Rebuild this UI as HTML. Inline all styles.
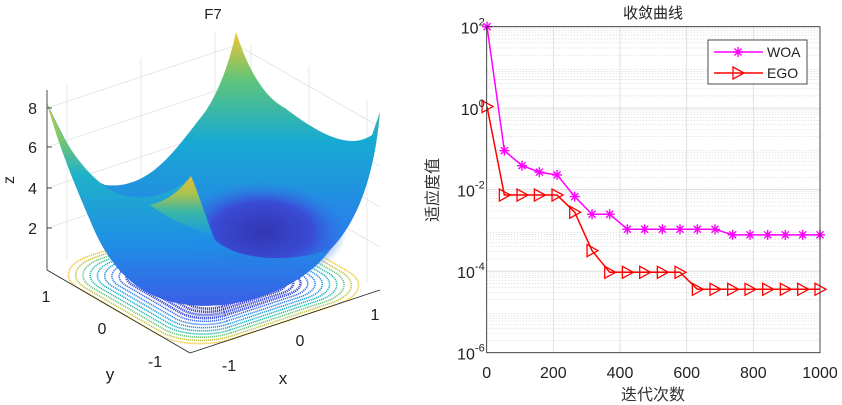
<!DOCTYPE html>
<html><head><meta charset="utf-8"><style>
body{margin:0;background:#fff}
svg{display:block;font-family:"Liberation Sans","Noto Sans CJK SC",sans-serif}
</style></head><body>
<svg id="root" width="842" height="405" viewBox="0 0 842 405" xmlns="http://www.w3.org/2000/svg">
<defs>
<linearGradient id="outerG" x1="0" y1="0" x2="0" y2="1">
<stop offset="0" stop-color="#f2c531"/><stop offset="0.15" stop-color="#8cca58"/><stop offset="0.35" stop-color="#1fb3c7"/><stop offset="0.7" stop-color="#1f8ee6"/><stop offset="1" stop-color="#3a5fe8"/></linearGradient>
<linearGradient id="backG" x1="0" y1="0" x2="0" y2="1">
<stop offset="0" stop-color="#f4c430"/><stop offset="0.18" stop-color="#5cc47b"/><stop offset="0.4" stop-color="#17a9d3"/><stop offset="0.75" stop-color="#2b7cea"/><stop offset="1" stop-color="#3b50d6"/></linearGradient>
<radialGradient id="darkG" cx="0.5" cy="0.5" r="0.5">
<stop offset="0" stop-color="#3336b0"/><stop offset="0.6" stop-color="#3a4bd6"/><stop offset="1" stop-color="#2d78ea" stop-opacity="0"/></radialGradient>
<linearGradient id="ridgeG" x1="0" y1="0" x2="0" y2="1">
<stop offset="0" stop-color="#f5c22d"/><stop offset="0.3" stop-color="#b9c540"/><stop offset="0.6" stop-color="#3fbaa0"/><stop offset="1" stop-color="#1b9be0"/></linearGradient>
</defs>

<!-- LEFT 3D PLOT -->
<g>
<text x="213" y="19" font-size="15" text-anchor="middle" fill="#222">F7</text>
<g stroke="#e2e2e2" stroke-width="0.8" fill="none">
<line x1="47" y1="108" x2="237" y2="45"/><line x1="47" y1="147" x2="237" y2="84"/><line x1="47" y1="188" x2="237" y2="125"/><line x1="47" y1="228" x2="237" y2="165"/>
<line x1="237" y1="45" x2="380" y2="127"/><line x1="237" y1="84" x2="380" y2="166"/><line x1="237" y1="125" x2="380" y2="207"/><line x1="237" y1="165" x2="380" y2="247"/>
<line x1="67" y1="83" x2="67" y2="260"/><line x1="141" y1="58" x2="141" y2="235"/><line x1="215" y1="33" x2="215" y2="210"/>
<line x1="251" y1="45" x2="251" y2="215"/><line x1="309" y1="66" x2="309" y2="248"/><line x1="367" y1="99" x2="367" y2="282"/>
</g>
<g id="floor" transform="matrix(95,-31.5,-71.5,-41.5,213.5,280)" fill="none"></g>
<path d="M47,103 C60,130 80,175 105,185 C150,190 175,150 205,112 C220,90 230,60 236,32 C245,60 260,95 285,108 C320,135 350,150 372,135 L380,112 C375,170 360,220 330,250 C300,290 240,310 190,305 C140,300 110,270 90,220 C75,185 60,150 47,103 Z" fill="url(#backG)"/>
<ellipse cx="262" cy="232" rx="85" ry="50" fill="url(#darkG)"/>
<path d="M47,103 C60,135 80,170 110,190 C140,205 170,195 190,178 C200,195 205,215 215,240 C240,262 290,262 330,250 C300,290 240,310 190,305 C140,300 110,270 90,220 C75,185 60,150 47,103 Z" fill="url(#outerG)" opacity="0.95"/>
<path d="M150,205 C170,200 180,190 191,176 C198,192 205,215 212,235 C195,230 170,220 150,205 Z" fill="url(#ridgeG)" opacity="0.9"/>
<g stroke="#222" stroke-width="0.8" fill="none">
<line x1="47" y1="90" x2="47" y2="270"/>
<line x1="47" y1="270" x2="190" y2="353"/><line x1="190" y1="353" x2="380" y2="290"/>
<line x1="47" y1="108" x2="52" y2="108"/><line x1="47" y1="147" x2="52" y2="147"/><line x1="47" y1="188" x2="52" y2="188"/><line x1="47" y1="228" x2="52" y2="228"/>
</g>
<g font-size="16" fill="#222">
<text x="37" y="114" text-anchor="end">8</text><text x="37" y="153" text-anchor="end">6</text><text x="37" y="194" text-anchor="end">4</text><text x="37" y="234" text-anchor="end">2</text>
</g>
<text x="14" y="180" font-size="16" fill="#222" transform="rotate(-90 14 180)" text-anchor="middle">z</text>
<g font-size="16" fill="#222">
<text x="46" y="302" text-anchor="middle">1</text><text x="102" y="334" text-anchor="middle">0</text><text x="155" y="367" text-anchor="middle">-1</text></g>
<text x="110" y="380" font-size="17" fill="#222" text-anchor="middle">y</text>
<g font-size="16" fill="#222">
<text x="229" y="371" text-anchor="middle">-1</text><text x="300" y="346" text-anchor="middle">0</text><text x="375" y="320" text-anchor="middle">1</text></g>
<text x="283" y="384" font-size="17" fill="#222" text-anchor="middle">x</text>
</g>

<!-- RIGHT CONVERGENCE CHART -->
<g id="conv">
<text x="653" y="18" font-size="15" text-anchor="middle" fill="#222">收敛曲线</text>
<g id="grid"></g>
<g id="series"></g>
<rect x="486.7" y="26.7" width="333.3" height="326" fill="none" stroke="#222" stroke-width="0.8"/>
<g id="ticks" font-size="16" fill="#222"></g>
<text x="653" y="400" font-size="16" text-anchor="middle" fill="#333">迭代次数</text>
<text x="438" y="190" font-size="16" text-anchor="middle" fill="#333" transform="rotate(-90 438 190)">适应度值</text>
<g>
<rect x="708" y="40" width="99" height="44" fill="#fff" stroke="#222" stroke-width="0.8"/>
<g>
<line x1="714" y1="52" x2="763" y2="52" stroke="#ff00ff" stroke-width="1.5"/>
<g id="legStar"></g>
<text x="767" y="57" font-size="14" fill="#222">WOA</text></g>
<g>
<line x1="714" y1="73" x2="763" y2="73" stroke="#ff0000" stroke-width="1.5"/>
<path d="M733,67 L744,73 L733,79 Z" fill="none" stroke="#ff0000" stroke-width="1.3"/>
<text x="767" y="78" font-size="14" fill="#222">EGO</text></g>
</g>
</g>
</svg>
<script>
const iters = [1,53,106,158,211,264,316,369,422,474,527,580,632,685,738,790,843,896,948,1000];
const woaValues = [100,0.091,0.039,0.027,0.023,0.0068,0.0025,0.0025,0.00107,0.00107,0.00107,0.00107,0.00107,0.00107,0.00078,0.00078,0.00078,0.00078,0.00078,0.00078];
const egoValues = [1.1,0.0074,0.0074,0.0074,0.0074,0.0028,0.00032,0.000094,0.000094,0.000094,0.000094,0.000094,0.000036,0.000036,0.000036,0.000036,0.000036,0.000036,0.000036,0.000036];
const xTicks = [0,200,400,600,800,1000];
const yTickExps = [2,0,-2,-4,-6];

const NS='http://www.w3.org/2000/svg';
const X0=486.7,X1=820,Y0=26.7,Y1=352.7;
function xs(v){return X0+(v-0)/(1000-0)*(X1-X0);}
function ys(v){return Y0+(2-Math.log10(v))/8*(Y1-Y0);}
function mk(tag,attrs,parent){const e=document.createElementNS(NS,tag);for(const k in attrs)e.setAttribute(k,attrs[k]);parent.appendChild(e);return e;}

const grid=document.getElementById('grid');
for(let e=-6;e<2;e++){for(let m=2;m<10;m++){const y=ys(m*Math.pow(10,e));
const l=mk('line',{x1:X0,x2:X1,y1:y,y2:y,stroke:'#d4d4d4','stroke-width':0.6,'stroke-dasharray':'1.5,1.5'},grid);

}}
const ticks=document.getElementById('ticks');
yTickExps.forEach(e=>{const y=ys(Math.pow(10,e));
const l=mk('line',{x1:X0,x2:X1,y1:y,y2:y,stroke:'#d9d9d9','stroke-width':0.8},grid);


const t=mk('text',{x:X0-2,y:y+7,'text-anchor':'end'},ticks);


t.textContent='10';
const s=mk('tspan',{dy:-8,'font-size':11},t);s.textContent=String(e);});
xTicks.forEach(v=>{const x=xs(v);
const l=mk('line',{x1:x,x2:x,y1:Y0,y2:Y1,stroke:'#d9d9d9','stroke-width':0.8},grid);


const t=mk('text',{x:x,y:378,'text-anchor':'middle'},ticks);


t.textContent=String(v);});

function star(cx,cy,parent,r){const g=mk('g',{stroke:'#ff00ff','stroke-width':1.4},parent);
for(let a=0;a<4;a++){const t=a*Math.PI/4;mk('line',{x1:cx-r*Math.cos(t),y1:cy-r*Math.sin(t),x2:cx+r*Math.cos(t),y2:cy+r*Math.sin(t)},g);}return g;}
const series=document.getElementById('series');
const woaLine=mk('polyline',{points:iters.map((v,i)=>xs(v)+','+ys(woaValues[i])).join(' '),fill:'none',stroke:'#ff00ff','stroke-width':1.5},series);


const egoLine=mk('polyline',{points:iters.map((v,i)=>xs(v)+','+ys(egoValues[i])).join(' '),fill:'none',stroke:'#ff0000','stroke-width':1.5},series);


iters.forEach((v,i)=>{const g=star(xs(v),ys(woaValues[i]),series,5);


const x=xs(v),y=ys(egoValues[i]);
const p=mk('path',{d:`M${x-5},${y-6} L${x+6},${y} L${x-5},${y+6} Z`,fill:'none',stroke:'#ff0000','stroke-width':1.3},series);

});
star(738,52,document.getElementById('legStar'),5);

// floor contour rings
const floor=document.getElementById('floor');
const cols=['#3b3fc9','#3b3fc9','#3d4fd8','#3d4fd8','#3566e6','#2a7fe8','#1e98dc','#17aec8','#2bbaa8','#6cc37a','#c2c13e','#f2c531'];
for(let i=0;i<12;i++){const s=0.45+i*0.05;
const r=mk('rect',{x:-s,y:-s,width:2*s,height:2*s,rx:s*0.45,ry:s*0.45,stroke:cols[i],'stroke-width':i<4?2.6:1.6,'stroke-dasharray':'1.2,0.8','vector-effect':'non-scaling-stroke'},floor);

}
</script>
</body></html>
